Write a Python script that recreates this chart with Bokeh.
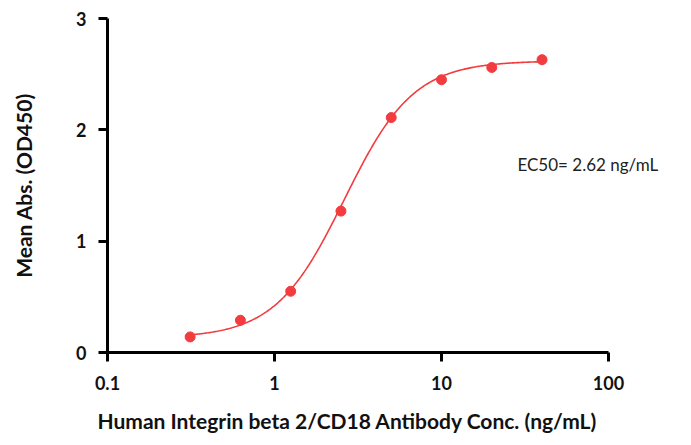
import numpy as np
from bokeh.plotting import figure
from bokeh.models import Range1d, FixedTicker, CustomJSTickFormatter, Label, Title
from bokeh.embed import file_html
from bokeh.resources import INLINE

# ---- data ----
conc = [0.3125, 0.625, 1.25, 2.5, 5, 10, 20, 40]
absorb = [0.14, 0.29, 0.55, 1.27, 2.11, 2.45, 2.56, 2.63]
x_ticks = [0.1, 1, 10, 100]
y_ticks = [0, 1, 2, 3]
ec50_label = "EC50= 2.62 ng/mL"
x_title = "Human Integrin  beta 2/CD18 Antibody Conc. (ng/mL)"
y_title = "Mean Abs. (OD450)"

# 4PL fit parameters
fit_bottom = 0.13
fit_top = 2.62
fit_ec50 = 2.62
fit_hill = 2.1

RED = "#f23c3f"
FONT = "Lato"

W, H = 691, 445
left, right, top, bottom = 107, 5, 18, 93
frame_w = W - left - right
px_per_decade = 167.0
x_end = 0.1 * 10 ** (frame_w / px_per_decade)

p = figure(width=W, height=H, x_axis_type="log",
           x_range=Range1d(0.1, x_end), y_range=Range1d(0, 3),
           output_backend="svg", toolbar_location=None,
           min_border_left=left, min_border_right=right,
           min_border_top=top, min_border_bottom=bottom)
p.outline_line_color = None
p.grid.visible = False
p.background_fill_color = "white"

# fitted curve
xs = np.logspace(np.log10(conc[0]), np.log10(conc[-1]), 300)
ys = fit_bottom + (fit_top - fit_bottom) / (1 + (fit_ec50 / xs) ** fit_hill)
p.line(xs, ys, line_color=RED, line_width=1.6)
p.scatter(conc, absorb, size=10, fill_color=RED, line_color=RED)

p.add_layout(Label(x=28.5, y=1.69, text=ec50_label, text_font=FONT,
                   text_font_size="17px", text_baseline="middle",
                   text_align="left", text_color="#222222"))

for ax in (p.xaxis[0], p.yaxis[0]):
    ax.axis_line_width = 3
    ax.axis_line_color = "black"
    ax.major_tick_line_width = 3
    ax.major_tick_line_color = "black"
    ax.major_tick_out = 9
    ax.major_tick_in = 0
    ax.minor_tick_line_color = None
    ax.major_label_text_font = FONT
    ax.major_label_text_font_style = "bold"
    ax.major_label_text_font_size = "18px"
    ax.major_label_text_color = "#111111"

xa = p.xaxis[0]
xa.bounds = (0.1, 100)
xa.ticker = FixedTicker(ticks=x_ticks)
xa.formatter = CustomJSTickFormatter(code="return tick.toString();")
xa.major_label_standoff = 14

ya = p.yaxis[0]
ya.bounds = (0, 3)
ya.ticker = FixedTicker(ticks=y_ticks)
ya.major_label_standoff = 12
ya.axis_label = y_title
ya.axis_label_standoff = 37
ya.axis_label_text_font = FONT
ya.axis_label_text_font_style = "bold"
ya.axis_label_text_font_size = "21px"
ya.axis_label_text_color = "#111111"

p.add_layout(Title(text=x_title, align="left", offset=-10, standoff=26,
                   text_font=FONT, text_font_style="bold",
                   text_font_size="21px", text_color="#111111"), "below")

open("out.html", "w").write(file_html(p, INLINE))
